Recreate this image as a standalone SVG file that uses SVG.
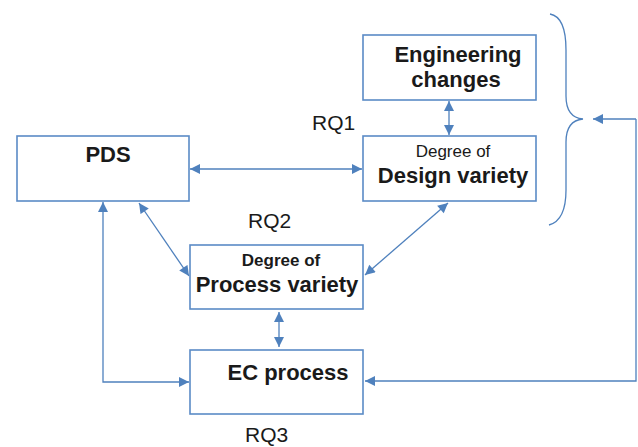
<svg xmlns="http://www.w3.org/2000/svg" width="638" height="447" viewBox="0 0 638 447">
<style>
.box{fill:#fff;stroke:#5b8bc6;stroke-width:1.6}
.ln{fill:none;stroke:#4f81bd;stroke-width:1.3}
.t{font-family:"Liberation Sans",Arial,sans-serif;fill:#1a1a1a;text-anchor:middle}
.b{font-weight:bold;font-size:22px}
.rq{font-size:21px;text-anchor:start}
</style>
<defs>
<marker id="ah" viewBox="0 0 10 10" refX="10" refY="5" markerWidth="11" markerHeight="10" markerUnits="userSpaceOnUse" orient="auto-start-reverse">
<path d="M0,0 L10,5 L0,10 z" fill="#4f81bd"/>
</marker>
</defs>
<rect width="638" height="447" fill="#fff"/>
<g id="connectors">
<line class="ln" x1="190" y1="169" x2="362" y2="169" marker-start="url(#ah)" marker-end="url(#ah)"/>
<line class="ln" x1="449" y1="101" x2="449" y2="135" marker-start="url(#ah)" marker-end="url(#ah)"/>
<line class="ln" x1="139" y1="203" x2="189" y2="276" marker-start="url(#ah)" marker-end="url(#ah)"/>
<line class="ln" x1="448" y1="203" x2="365" y2="275" marker-start="url(#ah)" marker-end="url(#ah)"/>
<line class="ln" x1="279" y1="312" x2="279" y2="347" marker-start="url(#ah)" marker-end="url(#ah)"/>
<polyline class="ln" points="103,202 103,382 189,382" marker-start="url(#ah)" marker-end="url(#ah)"/>
<polyline class="ln" points="636,119 636,381 365,381" marker-end="url(#ah)"/>
<line class="ln" x1="636" y1="119" x2="593" y2="119" marker-end="url(#ah)"/>
<path class="ln" d="M550,14 C561,16 566,30 566,50 L566,96 C566,110 572,118 583,119 C572,120 566,128 566,142 L566,190 C566,212 560,222 549,225"/>
</g>
<g id="engineering-changes">
<rect class="box" x="363" y="35" width="173" height="65"/>
<text class="t b" x="458" y="62">Engineering</text>
<text class="t b" x="456" y="87">changes</text>
</g>
<g id="design-variety">
<rect class="box" x="363" y="136" width="173" height="65"/>
<text class="t" x="453" y="157" font-size="17">Degree of</text>
<text class="t b" x="453" y="183">Design variety</text>
</g>
<g id="pds">
<rect class="box" x="17" y="136" width="172" height="65"/>
<text class="t b" x="108" y="162">PDS</text>
</g>
<g id="process-variety">
<rect class="box" x="190" y="245" width="173" height="64"/>
<text class="t" x="281" y="266" font-size="17" font-weight="bold">Degree of</text>
<text class="t b" x="277" y="292">Process variety</text>
</g>
<g id="ec-process">
<rect class="box" x="190" y="350" width="173" height="64"/>
<text class="t b" x="288" y="380">EC process</text>
</g>
<g id="labels">
<text class="t rq" x="312" y="130">RQ1</text>
<text class="t rq" x="248" y="228">RQ2</text>
<text class="t rq" x="245" y="442">RQ3</text>
</g>
</svg>
